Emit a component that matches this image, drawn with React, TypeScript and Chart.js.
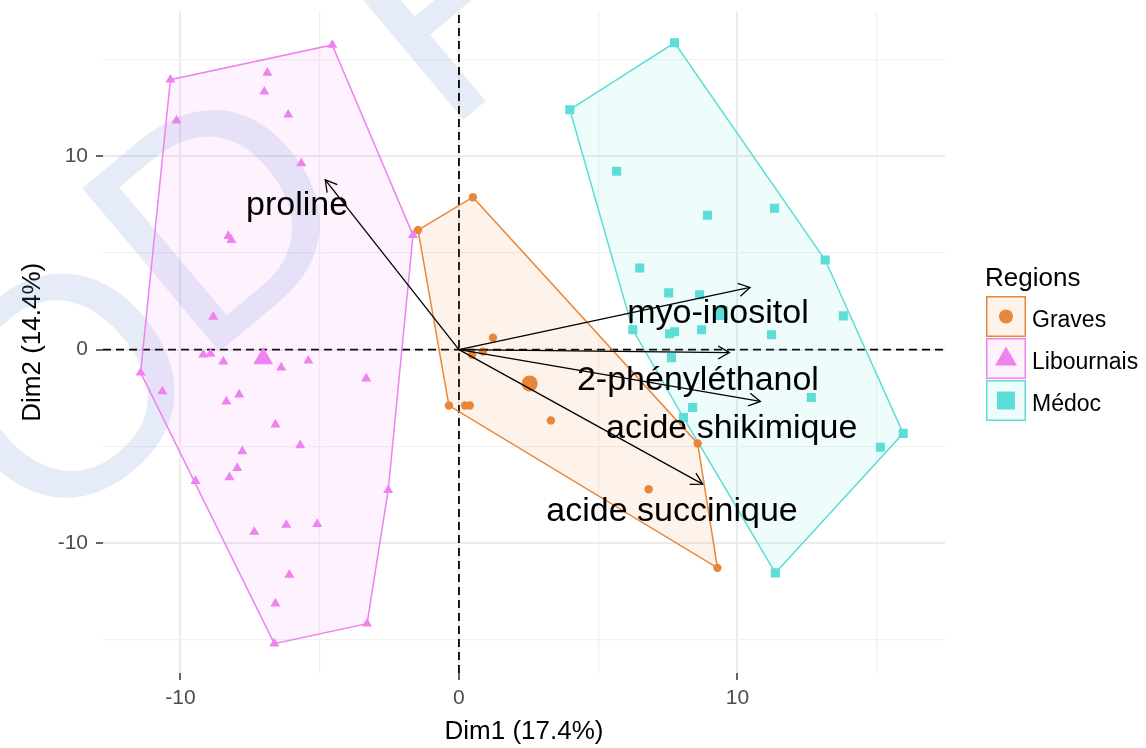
import React, { useEffect, useRef } from 'react';
import { Chart, registerables } from 'chart.js';

Chart.register(...registerables);

// ---------- data ----------
const regionNames = ['Graves', 'Libournais', 'Médoc'];
const regionColors = ['#E8873A', '#EE82EE', '#5CDDD8'];
const regionFills = ['rgba(232,135,58,0.10)', 'rgba(238,130,238,0.10)', 'rgba(92,221,216,0.10)'];
const regionShapes = ['circle', 'triangle', 'rect'];

const gravesX = [0.50, -1.47, -0.36, 0.22, 0.39, 1.22, 0.86, 0.47, 3.30, 8.57, 6.81, 9.28];
const gravesY = [7.89, 6.19, -2.89, -2.89, -2.89, 0.62, -0.10, -0.26, -3.66, -4.85, -7.22, -11.29];

const libournaisX = [-10.36, -4.55, -1.65, -2.54, -3.30, -6.63, -9.46, -11.43, -6.88, -6.99, -6.13, -10.14, -5.66, -8.28, -8.17, -8.82, -9.18, -8.92, -8.46, -6.38, -5.41, -3.33, -10.65, -8.35, -7.89, -6.59, -7.78, -5.70, -7.96, -8.24, -7.35, -6.20, -5.09, -6.09, -6.59];
const libournaisY = [13.97, 15.77, 5.93, -7.27, -14.18, -15.21, -6.80, -1.19, 14.33, 13.35, 12.16, 11.86, 9.64, 5.88, 5.67, 1.70, -0.26, -0.21, -0.62, -0.93, -0.57, -1.49, -2.16, -2.68, -2.32, -3.87, -5.26, -4.95, -6.13, -6.60, -9.43, -9.07, -9.02, -11.65, -13.14];

const medocX = [7.74, 3.98, 5.66, 8.92, 11.33, 13.15, 6.49, 7.53, 8.64, 13.80, 6.24, 7.56, 7.74, 8.71, 11.22, 7.63, 12.65, 8.39, 8.06, 15.95, 15.13, 11.36];
const medocY = [15.88, 12.42, 9.23, 6.96, 7.32, 4.64, 4.23, 2.94, 2.84, 1.75, 1.03, 0.82, 0.93, 1.03, 0.77, -0.41, -2.47, -2.99, -3.51, -4.33, -5.05, -11.55];

const meanX = [2.54, -7.03, 9.40];
const meanY = [-1.75, -0.46, 1.90];

const varNames = ['proline', 'myo-inositol', '2-phényléthanol', 'acide shikimique', 'acide succinique'];
const varX = [-4.80, 10.45, 9.71, 10.82, 8.75];
const varY = [8.79, 3.22, -0.15, -2.68, -6.96];
const labelX = [-5.81, 9.30, 8.58, 9.79, 7.65];
const labelY = [6.96, 1.36, -2.06, -4.59, -8.87];

const xTickLabels = [-10, 0, 10];
const yTickLabels = [-10, 0, 10];

const X_MIN = -12.78;
const X_MAX = 17.45;
const Y_MIN = -16.73;
const Y_MAX = 17.5;

const FONT = '"Liberation Sans", Arial, sans-serif';

// ---------- helpers ----------
type P = { x: number; y: number };
function toPoints(xs: number[], ys: number[]): P[] {
  return xs.map((x, i) => ({ x, y: ys[i] }));
}
function convexHull(xs: number[], ys: number[]): P[] {
  const pts = toPoints(xs, ys).sort((a, b) => a.x - b.x || a.y - b.y);
  const cross = (o: P, a: P, b: P) => (a.x - o.x) * (b.y - o.y) - (a.y - o.y) * (b.x - o.x);
  const lower: P[] = [];
  for (const p of pts) {
    while (lower.length >= 2 && cross(lower[lower.length - 2], lower[lower.length - 1], p) <= 0) lower.pop();
    lower.push(p);
  }
  const upper: P[] = [];
  for (let i = pts.length - 1; i >= 0; i--) {
    const p = pts[i];
    while (upper.length >= 2 && cross(upper[upper.length - 2], upper[upper.length - 1], p) <= 0) upper.pop();
    upper.push(p);
  }
  lower.pop();
  upper.pop();
  const hull = lower.concat(upper);
  hull.push(hull[0]);
  return hull;
}

const isMajor = (v: number) => Math.abs(v % 10) < 1e-6;

// ---------- plugins ----------
const watermarkPlugin = {
  id: 'watermark',
  beforeDatasetsDraw(chart: any) {
    const ctx = chart.ctx as CanvasRenderingContext2D;
    ctx.save();
    ctx.fillStyle = 'rgba(100,140,205,0.17)';
    ctx.font = `310px ${FONT}`;
    ctx.textAlign = 'left';
    ctx.textBaseline = 'alphabetic';
    const letters: [string, number, number][] = [
      ['O', 40, 545],
      ['D', 200, 368],
      ['F', 444, 136],
    ];
    for (const [ch, ox, oy] of letters) {
      ctx.save();
      ctx.translate(ox, oy);
      ctx.rotate((-40 * Math.PI) / 180);
      ctx.fillText(ch, 0, 0);
      ctx.restore();
    }
    ctx.restore();
  },
};

const overlayPlugin = {
  id: 'biplotOverlay',
  afterDatasetsDraw(chart: any) {
    const ctx = chart.ctx as CanvasRenderingContext2D;
    const xs = chart.scales.x;
    const ys = chart.scales.y;
    const x0 = xs.getPixelForValue(0);
    const y0 = ys.getPixelForValue(0);
    ctx.save();
    ctx.strokeStyle = '#000';
    ctx.lineWidth = 1.3;
    varNames.forEach((_, i) => {
      const ex = xs.getPixelForValue(varX[i]);
      const ey = ys.getPixelForValue(varY[i]);
      const ang = Math.atan2(ey - y0, ex - x0);
      const L = 13;
      const a = Math.PI / 6;
      ctx.beginPath();
      ctx.moveTo(ex - L * Math.cos(ang - a), ey - L * Math.sin(ang - a));
      ctx.lineTo(ex, ey);
      ctx.lineTo(ex - L * Math.cos(ang + a), ey - L * Math.sin(ang + a));
      ctx.stroke();
    });
    ctx.font = `34px ${FONT}`;
    ctx.fillStyle = '#000';
    ctx.textAlign = 'center';
    ctx.textBaseline = 'alphabetic';
    varNames.forEach((name, i) => {
      ctx.fillText(name, xs.getPixelForValue(labelX[i]), ys.getPixelForValue(labelY[i]));
    });
    ctx.restore();
  },
};

const legendPlugin = {
  id: 'customLegend',
  afterDraw(chart: any) {
    const ctx = chart.ctx as CanvasRenderingContext2D;
    const left = chart.chartArea.right + 41;
    ctx.save();
    ctx.fillStyle = '#000';
    ctx.textAlign = 'left';
    ctx.textBaseline = 'alphabetic';
    ctx.font = `26px ${FONT}`;
    ctx.fillText('Regions', left - 1, 286);
    regionNames.forEach((name, i) => {
      const top = 296 + i * 42;
      const w = 40;
      const h = 41;
      ctx.fillStyle = '#fff';
      ctx.fillRect(left, top, w, h);
      ctx.fillStyle = regionFills[i];
      ctx.fillRect(left, top, w, h);
      ctx.strokeStyle = regionColors[i];
      ctx.lineWidth = 1.5;
      ctx.strokeRect(left + 0.75, top + 0.75, w - 1.5, h - 1.5);
      const cx = left + w / 2;
      const cy = top + h / 2;
      ctx.fillStyle = regionColors[i];
      ctx.beginPath();
      if (regionShapes[i] === 'circle') {
        ctx.arc(cx, cy, 7, 0, Math.PI * 2);
      } else if (regionShapes[i] === 'triangle') {
        ctx.moveTo(cx, cy - 12);
        ctx.lineTo(cx + 11, cy + 7);
        ctx.lineTo(cx - 11, cy + 7);
        ctx.closePath();
      } else {
        ctx.rect(cx - 9, cy - 9, 18, 18);
      }
      ctx.fill();
      ctx.fillStyle = '#000';
      ctx.font = `23px ${FONT}`;
      ctx.fillText(name, left + 46, top + 31);
    });
    ctx.restore();
  },
};

// ---------- component ----------
export default function App() {
  const canvasRef = useRef<HTMLCanvasElement | null>(null);

  useEffect(() => {
    document.body.style.margin = '0';
    const canvas = canvasRef.current;
    if (!canvas) return;

    const groupsX = [gravesX, libournaisX, medocX];
    const groupsY = [gravesY, libournaisY, medocY];
    const pointRadii = [4.2, 5.8, 6.4];
    const meanRadii = [8, 11.5, 10];

    const datasets: any[] = [];

    varNames.forEach((name, i) => {
      datasets.push({
        type: 'line',
        label: name,
        data: [{ x: 0, y: 0 }, { x: varX[i], y: varY[i] }],
        borderColor: '#000',
        borderWidth: 1.3,
        pointRadius: 0,
        fill: false,
        tension: 0,
        order: 1,
      });
    });

    regionNames.forEach((name, g) => {
      datasets.push({
        type: 'scatter',
        label: name,
        data: toPoints(groupsX[g], groupsY[g]),
        pointStyle: regionShapes[g],
        pointRadius: pointRadii[g],
        backgroundColor: regionColors[g],
        borderColor: regionColors[g],
        borderWidth: 0,
        order: 3,
      });
      datasets.push({
        type: 'scatter',
        label: name + ' mean',
        data: [{ x: meanX[g], y: meanY[g] }],
        pointStyle: regionShapes[g],
        pointRadius: meanRadii[g],
        backgroundColor: regionColors[g],
        borderColor: regionColors[g],
        borderWidth: 0,
        order: 3,
      });
      datasets.push({
        type: 'line',
        label: name + ' hull',
        data: convexHull(groupsX[g], groupsY[g]),
        borderColor: regionColors[g],
        backgroundColor: regionFills[g],
        borderWidth: 1.5,
        pointRadius: 0,
        fill: 'shape',
        tension: 0,
        order: 4,
      });
    });

    datasets.push({
      type: 'line',
      label: 'h0',
      data: [{ x: X_MIN, y: 0 }, { x: X_MAX, y: 0 }],
      borderColor: '#000',
      borderWidth: 1.8,
      borderDash: [8, 5],
      pointRadius: 0,
      fill: false,
      order: 5,
    });
    datasets.push({
      type: 'line',
      label: 'v0',
      data: [{ x: 0, y: Y_MIN }, { x: 0, y: Y_MAX }],
      borderColor: '#000',
      borderWidth: 1.8,
      borderDash: [8, 5],
      pointRadius: 0,
      fill: false,
      order: 5,
    });

    const gridOpts = {
      color: (c: any) => (c.tick && isMajor(c.tick.value) ? '#EBEBEB' : '#F1F1F1'),
      lineWidth: (c: any) => (c.tick && isMajor(c.tick.value) ? 2 : 1.2),
      tickColor: (c: any) => (c.tick && isMajor(c.tick.value) ? '#333333' : 'rgba(0,0,0,0)'),
      tickWidth: 1.5,
      tickLength: 7,
      drawTicks: true,
    };

    const zeroPad = (s: any) => {
      s.paddingTop = 0;
      s.paddingBottom = 0;
      s.paddingLeft = 0;
      s.paddingRight = 0;
    };

    const chart = new Chart(canvas, {
      type: 'scatter',
      data: { datasets },
      plugins: [watermarkPlugin, overlayPlugin, legendPlugin],
      options: {
        animation: false,
        responsive: false,
        devicePixelRatio: 1,
        layout: { padding: { top: 9, right: 201, left: 0, bottom: 0 } },
        plugins: {
          legend: { display: false },
          tooltip: { enabled: false },
        },
        scales: {
          x: {
            type: 'linear',
            min: X_MIN,
            max: X_MAX,
            afterFit: (s: any) => {
              s.height = 75;
              zeroPad(s);
            },
            border: { display: false },
            grid: gridOpts,
            ticks: {
              stepSize: 5,
              autoSkip: false,
              includeBounds: false,
              maxRotation: 0,
              padding: 6,
              color: '#4D4D4D',
              font: { family: FONT, size: 21 },
              callback: (v: any) => (xTickLabels.includes(Number(v)) ? String(v) : ''),
            },
            title: {
              display: true,
              text: 'Dim1 (17.4%)',
              color: '#000',
              font: { family: FONT, size: 26 },
              padding: { top: 0, bottom: 1 },
            },
          },
          y: {
            type: 'linear',
            min: Y_MIN,
            max: Y_MAX,
            afterFit: (s: any) => {
              s.width = 103;
              zeroPad(s);
            },
            border: { display: false },
            grid: gridOpts,
            ticks: {
              stepSize: 5,
              autoSkip: false,
              includeBounds: false,
              padding: 8,
              color: '#4D4D4D',
              font: { family: FONT, size: 21 },
              callback: (v: any) => (yTickLabels.includes(Number(v)) ? String(v) : ''),
            },
            title: {
              display: true,
              text: 'Dim2 (14.4%)',
              color: '#000',
              font: { family: FONT, size: 26 },
              padding: { top: 17, bottom: 0 },
            },
          },
        },
      } as any,
    });

    return () => {
      chart.destroy();
    };
  }, []);

  return (
    <div style={{ position: 'absolute', left: 0, top: 0, width: 1146, height: 748, background: '#fff' }}>
      <canvas ref={canvasRef} width={1146} height={748} style={{ display: 'block', width: 1146, height: 748 }} />
    </div>
  );
}
